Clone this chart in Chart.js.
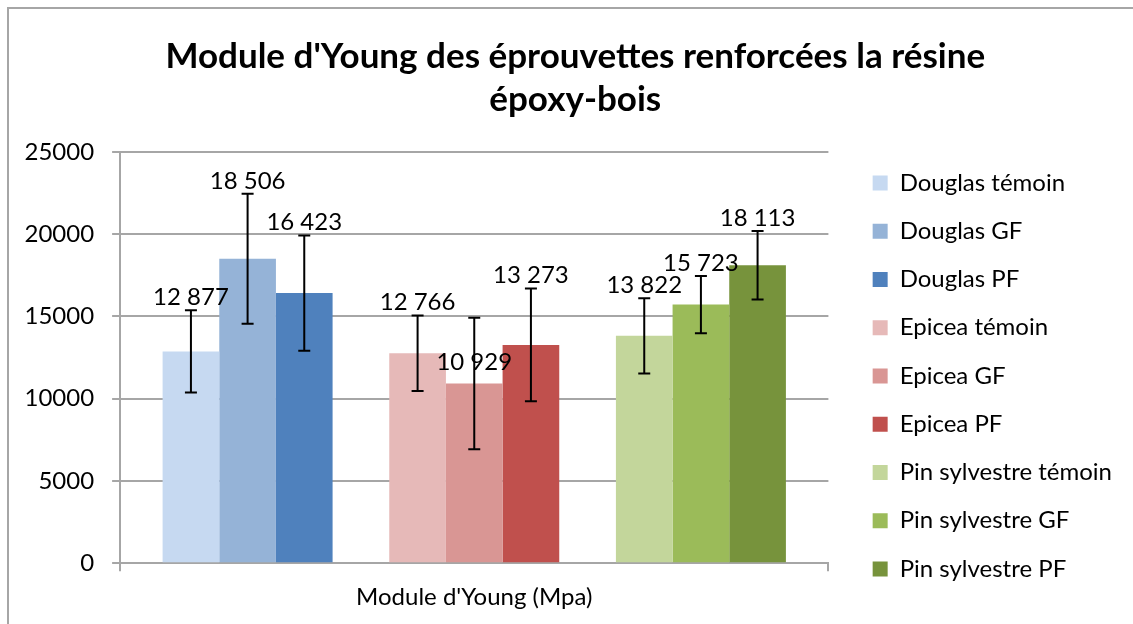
<!DOCTYPE html>
<html>
<head>
<meta charset="utf-8">
<script src="https://cdn.jsdelivr.net/npm/chart.js@4.4.1/dist/chart.umd.min.js"></script>
<style>
  html, body { margin: 0; padding: 0; background: #fff; overflow: hidden; width: 1133px; height: 624px; }
  #frame { position: absolute; left: 7px; top: 7px; width: 1140px; height: 630px;
           border-left: 2px solid #a6a6a6; border-top: 2px solid #a6a6a6; }
  #wrap { position: absolute; left: 0; top: 0; width: 1155px; height: 624px; }
</style>
</head>
<body>
<div id="frame"></div>
<div id="wrap"><canvas id="chart"></canvas></div>
<script>
var titleLines = ["Module d'Young des éprouvettes renforcées la résine", 'époxy-bois'];
var categories = ["Module d'Young (Mpa)"];
var species = ['Douglas', 'Epicea', 'Pin sylvestre'];
var treatments = ['témoin', 'GF', 'PF'];
var values = [12877, 18506, 16423, 12766, 10929, 13273, 13822, 15723, 18113];
var errors = [2500, 3950, 3500, 2300, 4000, 3430, 2290, 1740, 2080];
// the 10 929 label sits on its bar instead of above the error bar
var labelOnBar = [false, false, false, false, true, false, false, false, false];
var colors = [
  '#C6D9F1', '#95B3D7', '#4F81BD',
  '#E6B9B8', '#D99694', '#C0504D',
  '#C3D69B', '#9BBB59', '#77933C'
];

var fontFamily = 'Lato, "Open Sans", sans-serif';
var gridColor = '#a6a6a6';

function format(x) {
  return String(x).replace(/\B(?=(\d{3})+(?!\d))/g, ' ');
}

function buildDatasets() {
  var sets = [];
  species.forEach((sp, s) => {
    treatments.forEach((tr, t) => {
      var i = s * treatments.length + t;
      sets.push({
        label: sp + ' ' + tr,
        data: [values[i]],
        backgroundColor: colors[i],
        borderWidth: 0,
        error: errors[i],
        labelOnBar: labelOnBar[i]
      });
    });
    // empty slot between the species groups
    if (s < species.length - 1) {
      sets.push({ label: '', data: [null], spacer: true });
    }
  });
  return sets;
}

var errorBars = {
  id: 'errorBars',
  afterDatasetsDraw(chart) {
    var ctx = chart.ctx;
    var y = chart.scales.y;
    ctx.save();
    chart.data.datasets.forEach((ds, i) => {
      if (ds.spacer) return;
      var bar = chart.getDatasetMeta(i).data[0];
      var v = ds.data[0];
      var top = y.getPixelForValue(v + ds.error);
      var bottom = y.getPixelForValue(v - ds.error);
      ctx.strokeStyle = '#000';
      ctx.lineWidth = 2;
      ctx.beginPath();
      ctx.moveTo(bar.x, top);
      ctx.lineTo(bar.x, bottom);
      ctx.moveTo(bar.x - 6, top);
      ctx.lineTo(bar.x + 6, top);
      ctx.moveTo(bar.x - 6, bottom);
      ctx.lineTo(bar.x + 6, bottom);
      ctx.stroke();

      ctx.fillStyle = '#000';
      ctx.font = '24px ' + fontFamily;
      ctx.textAlign = 'center';
      ctx.textBaseline = 'middle';
      var ty = ds.labelOnBar ? bar.y - 21 : top - 13;
      ctx.fillText(format(v), bar.x, ty);
    });
    ctx.restore();
  }
};

var datasets = buildDatasets();

// empty axes used only as spacers around the legend
function spacerAxis(width, weight) {
  return {
    type: 'linear',
    position: 'right',
    display: true,
    weight: weight,
    grid: { display: false },
    border: { display: false },
    ticks: { display: false },
    afterFit: (scale) => { scale.width = width; }
  };
}

new Chart(document.getElementById('chart'), {
  type: 'bar',
  data: { labels: categories, datasets: datasets },
  plugins: [errorBars],
  options: {
    responsive: true,
    maintainAspectRatio: false,
    animation: false,
    categoryPercentage: 0.88,
    barPercentage: 1,
    layout: { padding: { left: 6.5, right: 11, top: 0, bottom: 0 } },
    plugins: {
      title: {
        display: true,
        text: titleLines,
        color: '#000',
        font: { family: fontFamily, size: 35, weight: 'bold', lineHeight: 1.2286 },
        padding: { top: 35, bottom: 31 }
      },
      legend: {
        position: 'right',
        align: 'start',
        maxWidth: 400,
        title: {
          display: true,
          text: ' ',
          font: { size: 12, lineHeight: 1 },
          padding: { top: 134.75, bottom: 0 }
        },
        labels: {
          color: '#000',
          font: { family: fontFamily, size: 24 },
          boxWidth: 15,
          boxHeight: 15,
          padding: 24.25,
          filter: (item) => !datasets[item.datasetIndex].spacer
        }
      },
      tooltip: { enabled: false }
    },
    scales: {
      x: {
        offset: true,
        grid: { drawOnChartArea: false, drawTicks: true, tickLength: 8, color: gridColor, lineWidth: 2 },
        border: { color: gridColor, width: 2 },
        ticks: { color: '#000', font: { family: fontFamily, size: 24 }, padding: 12 }
      },
      y: {
        min: 0,
        max: 25000,
        grid: { color: gridColor, lineWidth: 2, tickLength: 8 },
        border: { color: gridColor, width: 2 },
        ticks: {
          stepSize: 5000,
          color: '#000',
          font: { family: fontFamily, size: 24 },
          padding: 18,
          callback: (v) => String(v)
        }
      },
      gapLeft: spacerAxis(20, 0),
      gapRight: spacerAxis(22, 2000)
    }
  }
});
</script>
</body>
</html>
